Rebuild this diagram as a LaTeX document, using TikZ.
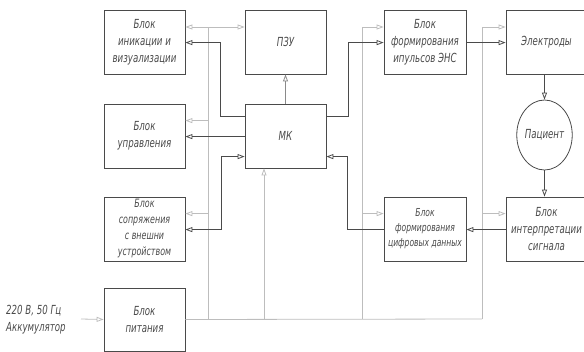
\documentclass[tikz,border=0pt]{standalone}
\usepackage{fontspec}
\setmainfont{DejaVu Sans}[FakeStretch=0.69]
\usetikzlibrary{arrows.meta,shapes.geometric,calc}
\definecolor{dk}{HTML}{4A4A4A}
\definecolor{lg}{HTML}{BDBDBD}
\definecolor{md}{HTML}{8A8A8A}
\tikzset{
  blk/.style={draw=dk, line width=0.8pt, minimum width=81pt, minimum height=64pt, inner sep=1pt, align=center,
    font=\fontsize{12.5}{17}\selectfont\itshape, text=dk},
  tip/.style={-{Triangle[open,length=7pt,width=5pt]}},
  dtip/.style={{Triangle[open,length=7pt,width=5pt]}-{Triangle[open,length=7pt,width=5pt]}},
  dline/.style={draw=dk, line width=0.8pt},
  mline/.style={draw=md, line width=0.8pt},
  gline/.style={draw=lg, line width=0.8pt},
}
\begin{document}
\begin{tikzpicture}[x=1pt,y=-1pt]
\useasboundingbox (0,0) rectangle (584,351);
\clip (0,0) rectangle (584,351);
% boxes
\node[blk] (ind) at (144.5,42) {Блок\\иникации и\\визуализации};
\node[blk] (pzu) at (285.5,42) {ПЗУ};
\node[blk] (upr) at (144.5,136) {Блок\\управления};
\node[blk] (mk)  at (285.5,136) {МК};
\node[blk,font=\fontsize{11.5}{16}\selectfont\itshape] (sop) at (144.5,229) {Блок\\сопряжения\\с внешни\\устройством};
\node[blk,minimum height=63pt] (pit) at (144.5,319.5) {Блок\\питания};
\node[blk,minimum width=82pt] (ens) at (425,42) {Блок\\формирования\\ипульсов ЭНС};
\node[blk] (el)  at (546.5,42) {Электроды};
\node[blk,ellipse,minimum width=49pt,minimum height=70pt,inner sep=0pt] (pac) at (544.5,135) {Пациент};
\node[blk,minimum width=82pt,font=\fontsize{11}{15}\selectfont\itshape] (cif) at (425,229) {Блок\\формирования\\цифровых данных};
\node[blk] (int) at (546.5,229) {Блок\\интерпретации\\сигнала};
\node[anchor=west,align=left,inner sep=1pt,text=dk,font=\fontsize{12.5}{17}\selectfont\itshape] (src) at (5,320) {220 В, 50 Гц\\Аккумулятор};
% power bus coordinates
\coordinate (in) at (81,319);
\coordinate (bA) at (208,319);
\coordinate (tA) at (208,27);
\coordinate (bB) at (264,319);
\coordinate (bC) at (362,319);
\coordinate (tC) at (362,27);
\coordinate (bD) at (482,319);
\coordinate (tD) at (482,27);
\path ($(upr.north east)+(0,17)$) coordinate (u1);
\path ($(sop.north east)+(0,17)$) coordinate (s1);
\path ($(cif.north west)+(0,17)$) coordinate (c1);
\path ($(int.north west)+(0,17)$) coordinate (i1);
% gray power lines
\draw[gline,tip] (in) -- (pit.west);
\draw[gline] (pit.east) -- (bD);
\draw[gline] (bA) -- (tA);
\draw[gline,tip] (tA) -- (ind.east |- tA);
\draw[gline,tip] (tA) -- (pzu.west |- tA);
\draw[gline,tip] (u1 -| bA) -- (u1);
\draw[gline,tip] (s1 -| bA) -- (s1);
\draw[gline,tip] (bB) -- (bB |- mk.south);
\draw[gline] (bC) -- (tC);
\draw[gline,tip] (tC) -- (ens.west |- tC);
\draw[gline,tip] (c1 -| bC) -- (c1);
\draw[gline] (bD) -- (tD);
\draw[gline,tip] (tD) -- (el.west |- tD);
\draw[gline,tip] (i1 -| bD) -- (i1);
% dark signal lines
\draw[dline,tip] ($(mk.north west)+(0,13)$) -- ++(-24,0) |- ($(ind.north east)+(0,33)$);
\draw[dline,tip] ($(mk.north west)+(0,33)$) -- ($(upr.north east)+(0,33)$);
\draw[dline,dtip] ($(sop.north east)+(0,33)$) -- ++(36,0) |- ($(mk.north west)+(0,53)$);
\draw[dline,tip] ($(mk.north east)+(0,13)$) -- ++(22,0) |- ($(ens.north west)+(0,33)$);
\draw[dline,tip] ($(cif.north west)+(0,33)$) -- ++(-36,0) |- ($(mk.north east)+(0,53)$);
\draw[dline,tip] ($(ens.north east)+(0,33)$) -- ($(el.north west)+(0,33)$);
\draw[dline,tip] (el.south -| pac.north) -- (pac.north);
\draw[dline,tip] (pac.south) -- (pac.south |- int.north);
\draw[dline,tip] ($(int.north west)+(0,33)$) -- ($(cif.north east)+(0,33)$);
\draw[mline,tip] (mk.north) -- (pzu.south);
\end{tikzpicture}
\end{document}
